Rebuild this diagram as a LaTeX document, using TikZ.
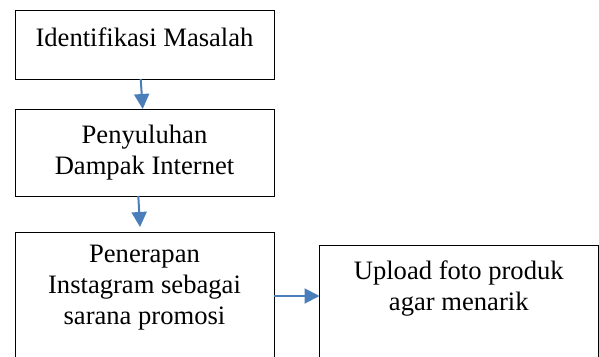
\documentclass[tikz,border=0pt]{standalone}
\usepackage{fontspec}
\setmainfont{Liberation Serif}
\usetikzlibrary{arrows.meta, positioning}
\definecolor{arrowblue}{RGB}{74,126,187}

\begin{document}
\begin{tikzpicture}[
  x=1pt, y=1pt,
  box/.style={draw=black, line width=1pt, anchor=north west, inner sep=0pt, outer sep=0pt, minimum width=259pt},
  txt/.style={font=\fontsize{26.6}{31}\selectfont, align=center, inner sep=0pt},
  arrow/.style={-{Triangle[length=15pt, width=15pt]}, line width=2pt, draw=arrowblue}
]
  \clip (0,0) rectangle (599,-356);

  % Kotak alur utama
  \node[box, minimum height=69pt] (ident) at (15,-10) {};
  \node[box, minimum height=87pt] (sulu) at (15,-109) {};
  \node[box, minimum height=140pt] (terap) at (15,-232) {};
  \node[box, minimum height=130pt, minimum width=278.5pt] (upload) at (319.5,-245) {};

  % Teks di dalam kotak
  \node[txt, below=17.5pt of ident.north] (identtext) {Identifikasi Masalah};
  \node[txt, below=16pt of sulu.north] (sulutext) {Penyuluhan\\Dampak Internet};
  \node[txt, below=13pt of terap.north] (terapttext) {Penerapan\\Instagram sebagai\\sarana promosi};
  \node[txt, below=16pt of upload.north] (uploadtext) {Upload foto produk\\agar menarik};

  % Panah antar kotak
  \draw[arrow] ([xshift=-3.8pt]ident.south) -- ([xshift=-1.8pt]sulu.north);
  \draw[arrow] ([xshift=-6.2pt]sulu.south) -- ([xshift=-4.5pt, yshift=5pt]terap.north);
  \coordinate (terapout) at ([yshift=6pt]terap.east);
  \draw[arrow] (terapout) -- (terapout -| upload.west);

\end{tikzpicture}
\end{document}
